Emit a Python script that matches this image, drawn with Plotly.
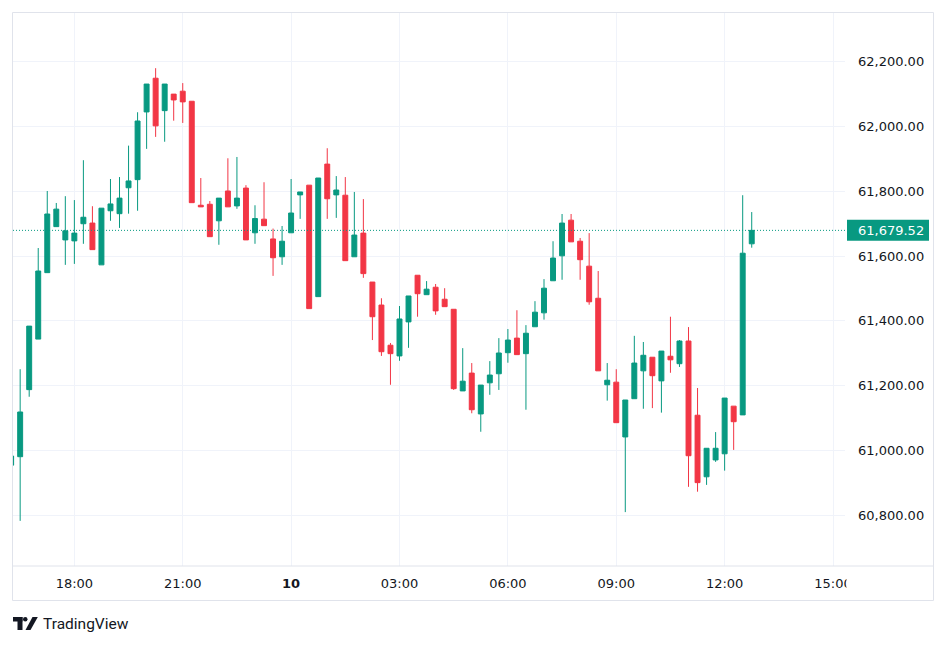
import pandas as pd
import plotly.graph_objects as go

# ---- data (15-minute candles, 9 Oct 16:15 -> 10 Oct 12:45) ----
start_time = "2024-10-09 16:15"
opens = [60955, 60981, 61188, 61344, 61549, 61691, 61650, 61647, 61700, 61702,
         61573, 61740, 61731, 61811, 61836, 62045, 62149, 62049, 62100, 62109,
         62078, 61757, 61760, 61709, 61801, 61755, 61810, 61672, 61714, 61653,
         61598, 61672, 61789, 61819, 61475, 61884, 61789, 61788, 61598, 61671,
         61520, 61449, 61325, 61292, 61397, 61541, 61481, 61504, 61467, 61436,
         61184, 61239, 61113, 61209, 61237, 61302, 61347, 61299, 61382, 61425,
         61524, 61601, 61711, 61646, 61569, 61470, 61203, 61211, 61042, 61160,
         61246, 61288, 61215, 61291, 61268, 61338, 61109, 60919, 60971, 60990,
         61137, 61110, 61638]
highs = [60986, 61251, 61384, 61625, 61801, 61764, 61785, 61773, 61896, 61754,
         61748, 61838, 61844, 61941, 62044, 62131, 62180, 62131, 62100, 62134,
         62078, 61841, 61770, 61779, 61902, 61906, 61819, 61757, 61828, 61685,
         61693, 61838, 61798, 61819, 61841, 61933, 61847, 61844, 61798, 61776,
         61520, 61470, 61332, 61446, 61477, 61541, 61523, 61514, 61501, 61436,
         61316, 61270, 61202, 61276, 61347, 61375, 61433, 61387, 61461, 61529,
         61646, 61730, 61730, 61656, 61671, 61554, 61270, 61251, 61156, 61354,
         61335, 61288, 61307, 61413, 61341, 61381, 61193, 61007, 61057, 61162,
         61137, 61788, 61736]
lows = [60950, 60783, 61166, 61344, 61549, 61691, 61573, 61576, 61638, 61620,
        61573, 61709, 61687, 61731, 61740, 61931, 61968, 61953, 62018, 62011,
        61765, 61752, 61660, 61635, 61752, 61746, 61650, 61638, 61694, 61539,
        61573, 61672, 61715, 61438, 61475, 61715, 61718, 61586, 61598, 61533,
        61341, 61292, 61203, 61277, 61317, 61413, 61481, 61419, 61444, 61187,
        61184, 61115, 61058, 61172, 61187, 61271, 61296, 61126, 61382, 61404,
        61524, 61527, 61644, 61527, 61450, 61246, 61154, 61086, 60810, 61160,
        61129, 61131, 61117, 61240, 61258, 60888, 60873, 60894, 60965, 60938,
        61002, 61110, 61626]
closes = [60983, 61119, 61384, 61554, 61730, 61745, 61678, 61671, 61720, 61620,
          61748, 61761, 61779, 61832, 62017, 62131, 62002, 62131, 62082, 62076,
          61765, 61752, 61660, 61779, 61752, 61779, 61650, 61716, 61694, 61595,
          61646, 61733, 61798, 61438, 61841, 61777, 61804, 61586, 61665, 61546,
          61413, 61305, 61299, 61406, 61477, 61484, 61498, 61431, 61444, 61191,
          61214, 61126, 61202, 61233, 61301, 61341, 61296, 61362, 61427, 61501,
          61594, 61702, 61644, 61589, 61459, 61246, 61217, 61086, 61156, 61270,
          61294, 61231, 61307, 61280, 61338, 60984, 60901, 61007, 61007, 61162,
          61089, 61609, 61679.52]
last_price = 61679.52

tick_times = ["2024-10-09 18:00", "2024-10-09 21:00", "2024-10-10 00:00",
              "2024-10-10 03:00", "2024-10-10 06:00", "2024-10-10 09:00",
              "2024-10-10 12:00", "2024-10-10 15:00"]
tick_labels = ["18:00", "21:00", "<b>10</b>", "03:00", "06:00", "09:00",
               "12:00", "15:00"]
price_ticks = [60800, 61000, 61200, 61400, 61600, 61800, 62000, 62200]

times = pd.date_range(start_time, periods=len(opens), freq="15min")

GREEN = "#089981"
RED = "#F23645"
TEXT = "#131722"
GRID = "#f0f3fa"
BORDER = "#e0e3eb"
AXFONT = "DejaVu Sans, Verdana, sans-serif"
LOGOFONT = "Roboto, Arial, sans-serif"

W, H = 947, 645
ML, MR, MT, MB = 13, 102, 13, 79
PW, PH = W - ML - MR, H - MT - MB


def fx(px):
    return (px - ML) / PW


def fy(py):
    return (H - MB - py) / PH


fig = go.Figure()
fig.add_trace(go.Candlestick(
    x=times, open=opens, high=highs, low=lows, close=closes,
    increasing=dict(line=dict(color=GREEN, width=1), fillcolor=GREEN),
    decreasing=dict(line=dict(color=RED, width=1), fillcolor=RED),
    whiskerwidth=0, hoverinfo="skip", showlegend=False,
))

shapes = []
# time-scale clipping under the price scale (cuts the last time label)
shapes.append(dict(type="rect", xref="paper", yref="paper",
                   x0=fx(846.5), x1=fx(933), y0=fy(600), y1=fy(567),
                   fillcolor="white", line=dict(width=0), layer="above"))
# last price dotted line
shapes.append(dict(type="line", xref="paper", yref="y", x0=0, x1=1,
                   y0=last_price, y1=last_price,
                   line=dict(color=GREEN, width=1, dash="1px,2px"), layer="above"))
# last price badge
shapes.append(dict(type="rect", xref="paper", yref="y", xsizemode="pixel",
                   ysizemode="pixel", xanchor=1, yanchor=last_price,
                   x0=2, x1=84, y0=-10.5, y1=10.5,
                   fillcolor=GREEN, line=dict(width=0), layer="above"))
# outer frame
shapes.append(dict(type="rect", xref="paper", yref="paper",
                   x0=fx(12.5), x1=fx(933.5), y0=fy(600.5), y1=fy(12.5),
                   line=dict(color=BORDER, width=1), layer="above"))
# time axis separator
shapes.append(dict(type="line", xref="paper", yref="paper",
                   x0=fx(12.5), x1=fx(933.5), y0=fy(566), y1=fy(566),
                   line=dict(color=BORDER, width=1), layer="above"))
# TradingView logo
logo_color = TEXT
shapes.append(dict(type="rect", xref="paper", yref="paper",
                   x0=fx(13), x1=fx(22.5), y0=fy(621.5), y1=fy(617),
                   fillcolor=logo_color, line=dict(width=0)))
shapes.append(dict(type="rect", xref="paper", yref="paper",
                   x0=fx(17.5), x1=fx(22.5), y0=fy(630), y1=fy(617),
                   fillcolor=logo_color, line=dict(width=0)))
shapes.append(dict(type="circle", xref="paper", yref="paper",
                   x0=fx(23), x1=fx(27.5), y0=fy(621.5), y1=fy(617),
                   fillcolor=logo_color, line=dict(width=0)))
slash = "M {a},{b} L {c},{d} L {e},{f} L {g},{h} Z".format(
    a=fx(25.5), b=fy(630), c=fx(30.5), d=fy(630),
    e=fx(37.8), f=fy(617), g=fx(32.5), h=fy(617))
shapes.append(dict(type="path", xref="paper", yref="paper", path=slash,
                   fillcolor=logo_color, line=dict(width=0)))

annotations = [
    dict(xref="paper", yref="y", x=1, y=last_price, xanchor="left",
         yanchor="middle", xshift=11, text=f"{last_price:,.2f}",
         showarrow=False, font=dict(family=AXFONT, size=13, color="white")),
    dict(xref="paper", yref="paper", x=fx(40.5), y=fy(623.5), xanchor="left",
         yanchor="middle", text="TradingView", showarrow=False,
         font=dict(family=LOGOFONT, size=15.5, color=TEXT)),
]

fig.update_layout(
    width=W, height=H,
    margin=dict(l=ML, r=MR, t=MT, b=MB),
    paper_bgcolor="white", plot_bgcolor="white",
    font=dict(family=AXFONT, size=13, color=TEXT),
    boxgap=0.22,
    shapes=shapes, annotations=annotations,
    hovermode=False,
    xaxis=dict(
        type="date",
        range=["2024-10-09 16:18:06", "2024-10-10 15:19:54"],
        tickvals=tick_times, ticktext=tick_labels,
        showgrid=True, gridcolor=GRID, gridwidth=1,
        zeroline=False, showline=False, ticks="",
        ticklabelstandoff=8,
        tickfont=dict(family=AXFONT, size=13, color=TEXT),
        rangeslider=dict(visible=False), fixedrange=True,
    ),
    yaxis=dict(
        side="right",
        range=[60643.7, 62350.3],
        tickvals=price_ticks, tickformat=",.2f",
        showgrid=True, gridcolor=GRID, gridwidth=1,
        zeroline=False, showline=False, ticks="",
        ticklabelstandoff=12,
        tickfont=dict(family=AXFONT, size=13, color=TEXT),
        fixedrange=True,
    ),
)

fig.write_html("out.html", config={"displayModeBar": False})
